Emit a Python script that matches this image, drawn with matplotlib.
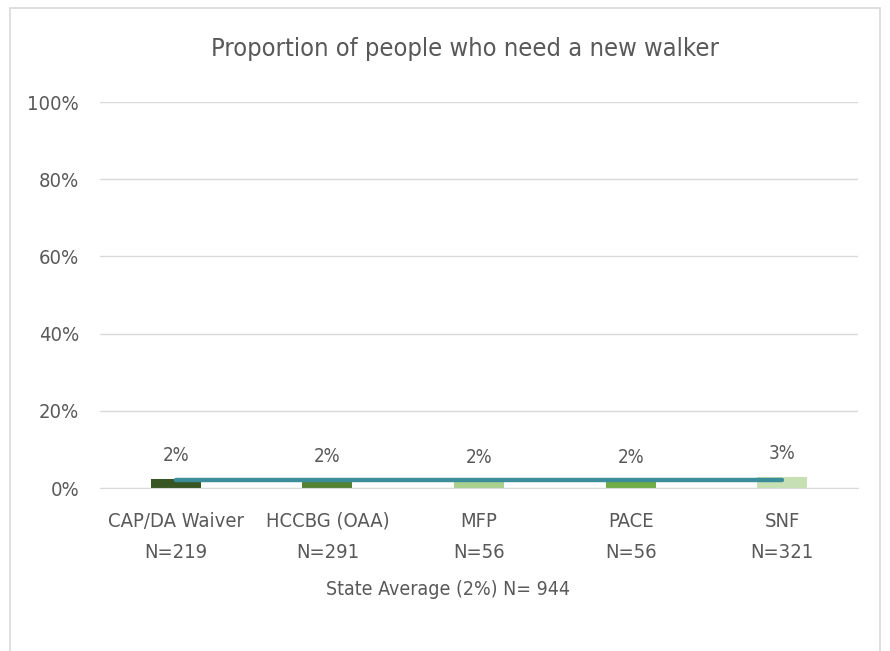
import matplotlib
matplotlib.use("Agg")
import matplotlib.pyplot as plt
from matplotlib.patches import Rectangle
from matplotlib.ticker import FuncFormatter

categories = ["CAP/DA Waiver", "HCCBG (OAA)", "MFP", "PACE", "SNF"]
sample_sizes = [219, 291, 56, 56, 321]
values = [2.3, 2.0, 1.8, 1.9, 2.9]
value_labels = ["2%", "2%", "2%", "2%", "3%"]
state_average = 2.1
state_label = "State Average (2%) N= 944"
title = "Proportion of people who need a new walker"
bar_colors = ["#375623", "#548235", "#A9D08E", "#70AD47", "#C6E0B4"]
yticks = [0, 20, 40, 60, 80, 100]

plt.rcParams['font.family'] = ['DejaVu Sans']
txt = "#595959"
fs = dict(fontstretch='condensed')

fig = plt.figure(figsize=(8.9, 6.51), dpi=100)
fig.patches.append(Rectangle((10/890, -0.1), 870/890, 1.1 - 8/651, transform=fig.transFigure,
                             fill=False, edgecolor="#D9D9D9", linewidth=1.2))
ax = fig.add_axes([100/890, (651-488)/651, 758/890, (488-102)/651])

x = list(range(len(categories)))
ax.bar(x, values, width=0.33, color=bar_colors, zorder=2)
ax.plot([x[0], x[-1]], [state_average, state_average], color="#3B8D99", linewidth=3.2,
        solid_capstyle='round', zorder=3)
for xi, v, lab in zip(x, values, value_labels):
    ax.annotate(lab, (xi, v), xytext=(0, 10), textcoords='offset points', ha='center',
                va='bottom', fontsize=13.5, color=txt, **fs)

ax.set_xlim(-0.5, len(categories) - 0.5)
ax.set_ylim(0, 100)
ax.set_yticks(yticks)
ax.yaxis.set_major_formatter(FuncFormatter(lambda v, p: f"{int(v)}%"))
ax.set_xticks(x)
ax.set_xticklabels([f"{c}\nN={n}" for c, n in zip(categories, sample_sizes)], linespacing=1.8)
ax.tick_params(axis='both', length=0, labelcolor=txt, labelsize=14.5)
ax.tick_params(axis='y', pad=15)
ax.tick_params(axis='x', pad=17)
for lab in ax.get_xticklabels() + ax.get_yticklabels():
    lab.set_fontstretch('condensed')
ax.grid(axis='y', color="#D9D9D9", linewidth=1, zorder=0)
ax.set_axisbelow(True)
for s in ['top', 'right', 'left']:
    ax.spines[s].set_visible(False)
ax.spines['bottom'].set_color("#D9D9D9")
ax.set_xlabel(state_label, fontsize=14, color=txt, labelpad=13, **fs)
ax.xaxis.label.set_x((448 - 100) / 758)
fig.text(465/890, 1 - 49/651, title, ha='center', va='center', fontsize=18.3, color=txt, **fs)

fig.savefig("out.png", dpi=100)
